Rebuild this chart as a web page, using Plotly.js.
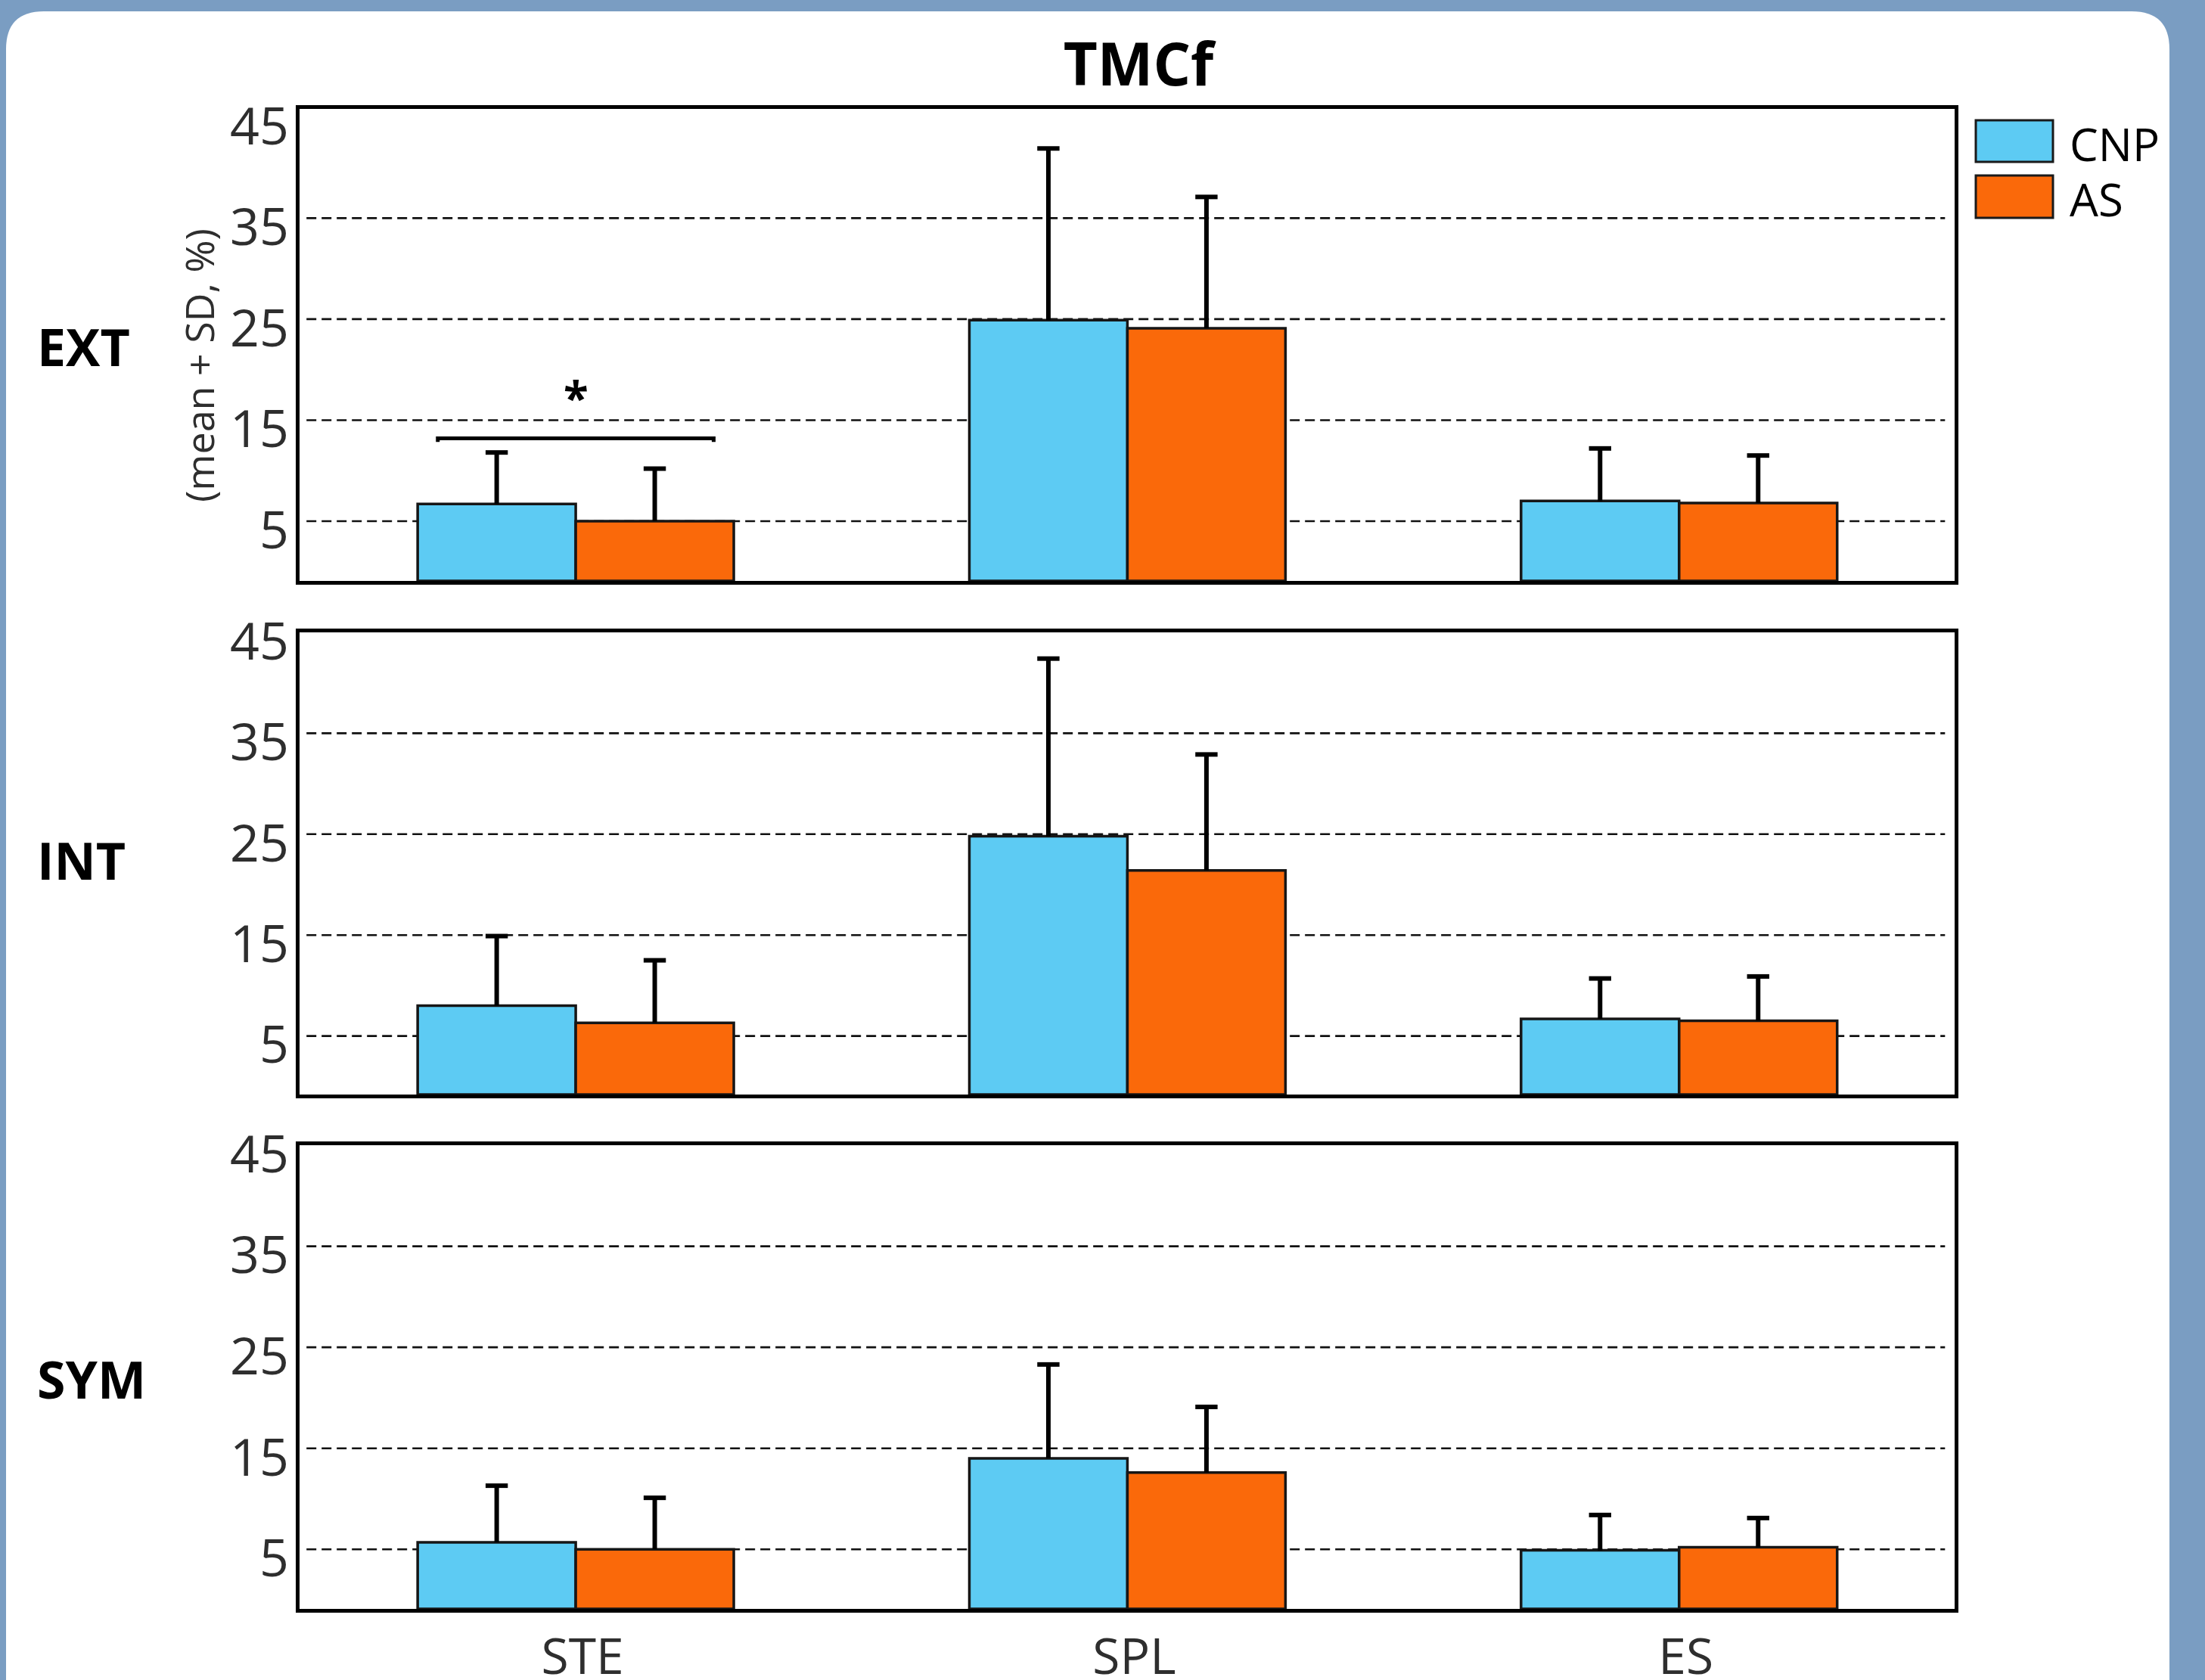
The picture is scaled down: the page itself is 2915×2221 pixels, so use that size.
<!DOCTYPE html>
<html><head><meta charset="utf-8">
<script src="https://cdn.plot.ly/plotly-3.0.1.min.js"></script>
<style>html,body{margin:0;padding:0;background:#7A9DC2;} #chart{width:2915px;height:2221px;}</style>
</head><body><div id="chart"></div>
<script>
// ---------- data ----------
const CATEGORIES = ['STE', 'SPL', 'ES'];
const PANELS = ['EXT', 'INT', 'SYM'];
const GROUPS = ['CNP', 'AS'];
const GROUP_COLORS = ['#5DCBF3', '#FA690A'];

const EXT_CNP_MEAN = [6.7, 24.9, 7.0];
const EXT_CNP_SD   = [5.1, 17.0, 5.2];
const EXT_AS_MEAN  = [5.0, 24.1, 6.8];
const EXT_AS_SD    = [5.2, 13.0, 4.7];

const INT_CNP_MEAN = [8.0, 24.8, 6.7];
const INT_CNP_SD   = [6.9, 17.6, 4.0];
const INT_AS_MEAN  = [6.3, 21.4, 6.5];
const INT_AS_SD    = [6.2, 11.5, 4.4];

const SYM_CNP_MEAN = [5.7, 14.0, 4.9];
const SYM_CNP_SD   = [5.6, 9.3, 3.5];
const SYM_AS_MEAN  = [5.0, 12.6, 5.2];
const SYM_AS_SD    = [5.1, 6.5, 2.9];

const Y_TICKS = [5, 15, 25, 35, 45];
const GRID_VALUES = [5, 15, 25, 35];
const TITLE = 'TMCf';
const Y_TITLE = '(mean + SD, %)';
const SIG_LABEL = '*';

// ---------- layout constants ----------
const Y_RANGES = [[-0.92, 45.82], [-0.80, 45.0], [-0.90, 45.0]];
const Y_DOMAINS = [[0.6542, 0.9352], [0.3485, 0.6236], [0.0423, 0.3183]];
const X_DOMAIN = [0.1360, 0.8866];
const BAR_GAP = 0.427;
const BRACKET = {x0: -0.25, x1: 0.25, y: 13.2, drop: 0.35, starY: 17.3};

const MEANS = [[EXT_CNP_MEAN, EXT_AS_MEAN], [INT_CNP_MEAN, INT_AS_MEAN], [SYM_CNP_MEAN, SYM_AS_MEAN]];
const SDS = [[EXT_CNP_SD, EXT_AS_SD], [INT_CNP_SD, INT_AS_SD], [SYM_CNP_SD, SYM_AS_SD]];

const FONT = 'Open Sans, Liberation Sans, DejaVu Sans, sans-serif';
const TEXT_GRAY = '#2E2E2E';
const W = 2915, H = 2221;

const traces = [];
const layout = {
  width: W, height: H,
  margin: {l: 0, r: 0, t: 0, b: 0, pad: 0},
  paper_bgcolor: '#7A9DC2',
  plot_bgcolor: '#FFFFFF',
  showlegend: false,
  barmode: 'group',
  bargap: BAR_GAP,
  bargroupgap: 0,
  font: {family: FONT, color: TEXT_GRAY},
  title: {text: '<b>' + TITLE + '</b>', font: {family: FONT, size: 78, color: '#000000'},
          x: 1505 / W, xref: 'paper', xanchor: 'center', y: 1 - 86 / H, yref: 'paper', yanchor: 'middle'},
  shapes: [],
  annotations: []
};

// white rounded panel background
const px = v => v / W, py = v => 1 - v / H;
const rx = 50 / W, ry = 50 / H;
const bx0 = px(8), bx1 = px(2868), byT = py(15), byB = -0.02;
layout.shapes.push({
  type: 'path', xref: 'paper', yref: 'paper', layer: 'below',
  path: `M ${bx0},${byB} L ${bx0},${byT - ry} Q ${bx0},${byT} ${bx0 + rx},${byT} L ${bx1 - rx},${byT} Q ${bx1},${byT} ${bx1},${byT - ry} L ${bx1},${byB} Z`,
  fillcolor: '#FFFFFF', line: {width: 0}
});

const halfBar = (1 - BAR_GAP) / 4;
const ROW_LABEL_Y = [457, 1136, 1822];

PANELS.forEach((panel, p) => {
  const sfx = p === 0 ? '' : String(p + 1);
  const xa = 'x' + sfx, ya = 'y' + sfx;
  const yMin = Y_RANGES[p][0];
  GROUPS.forEach((g, k) => {
    traces.push({
      type: 'bar', name: g,
      x: CATEGORIES.map((c, i) => i),
      y: MEANS[p][k].map(v => v - yMin),
      base: yMin,
      xaxis: xa, yaxis: ya,
      marker: {color: GROUP_COLORS[k], line: {color: '#161616', width: 3.5}},
      error_y: {type: 'data', symmetric: false, array: SDS[p][k], arrayminus: SDS[p][k].map(() => 0),
                color: '#000000', thickness: 6, width: 0},
      hoverinfo: 'skip'
    });
    // error bar caps (top of mean + SD)
    traces.push({
      type: 'scatter', mode: 'markers', name: g + ' SD cap', showlegend: false,
      x: CATEGORIES.map((c, i) => i + (k === 0 ? -halfBar : halfBar)),
      y: MEANS[p][k].map((v, i) => v + SDS[p][k][i]),
      xaxis: xa, yaxis: ya,
      marker: {symbol: 'line-ew', size: 21, line: {color: '#000000', width: 6}},
      hoverinfo: 'skip', cliponaxis: false
    });
  });
  layout['xaxis' + sfx] = {
    domain: X_DOMAIN, anchor: ya, range: [-0.5, 2.5],
    tickmode: 'array', tickvals: CATEGORIES.map((c, i) => i), ticktext: CATEGORIES,
    showticklabels: p === 2, ticks: '', ticklabelstandoff: 2, ticklabelshift: 9,
    tickfont: {family: FONT, size: 66, color: TEXT_GRAY},
    showgrid: false, zeroline: false,
    showline: true, mirror: true, linecolor: '#000000', linewidth: 5,
    automargin: false, fixedrange: true
  };
  layout['yaxis' + sfx] = {
    domain: Y_DOMAINS[p], anchor: xa, range: Y_RANGES[p],
    tickmode: 'array', tickvals: Y_TICKS, ticktext: Y_TICKS.map(String),
    ticks: '', ticklabelstandoff: -4, ticklabelshift: 12,
    tickfont: {family: FONT, size: 68, color: TEXT_GRAY},
    showgrid: false, zeroline: false,
    showline: true, mirror: true, linecolor: '#000000', linewidth: 5,
    automargin: false, fixedrange: true
  };
  GRID_VALUES.forEach(v => {
    layout.shapes.push({type: 'line', xref: xa + ' domain', yref: ya, x0: 0.004, x1: 0.994, y0: v, y1: v,
      layer: 'below', line: {color: '#111111', width: 2.6, dash: '13px,7px'}});
  });
  layout.annotations.push({
    text: '<b>' + panel + '</b>', xref: 'paper', yref: 'paper', x: px(47), xanchor: 'left',
    y: py(ROW_LABEL_Y[p]), yanchor: 'middle', showarrow: false,
    font: {family: FONT, size: 68, color: '#000000'}
  });
});

// y axis title (only top panel)
layout.annotations.push({
  text: Y_TITLE, xref: 'paper', yref: 'paper', x: px(262), y: py(483),
  xanchor: 'center', yanchor: 'middle', textangle: -90, showarrow: false,
  font: {family: FONT, size: 52, color: TEXT_GRAY}
});

// significance bracket + star (EXT, STE)
traces.push({
  type: 'scatter', mode: 'lines', xaxis: 'x', yaxis: 'y', showlegend: false,
  x: [BRACKET.x0, BRACKET.x0, BRACKET.x1, BRACKET.x1],
  y: [BRACKET.y - BRACKET.drop, BRACKET.y, BRACKET.y, BRACKET.y - BRACKET.drop],
  line: {color: '#000000', width: 5}, hoverinfo: 'skip'
});
layout.annotations.push({
  text: '<b>' + SIG_LABEL + '</b>', xref: 'x', yref: 'y', x: (BRACKET.x0 + BRACKET.x1) / 2, y: BRACKET.starY,
  xanchor: 'center', yanchor: 'middle', showarrow: false, font: {family: FONT, size: 60, color: '#000000'}
});

// custom legend
const LEG_BOXES = [[159, 214], [232, 288]];
const LEG_TEXT_Y = [190, 263];
GROUPS.forEach((g, k) => {
  layout.shapes.push({type: 'rect', xref: 'paper', yref: 'paper',
    x0: px(2612), x1: px(2714), y0: py(LEG_BOXES[k][1]), y1: py(LEG_BOXES[k][0]),
    fillcolor: GROUP_COLORS[k], line: {color: '#1A1A1A', width: 3}});
  layout.annotations.push({text: g, xref: 'paper', yref: 'paper', x: px(2734), y: py(LEG_TEXT_Y[k]),
    xanchor: 'left', yanchor: 'middle', showarrow: false, font: {family: FONT, size: 60, color: '#000000'}});
});

Plotly.newPlot('chart', traces, layout, {staticPlot: true, displayModeBar: false});
</script>
</body></html>
